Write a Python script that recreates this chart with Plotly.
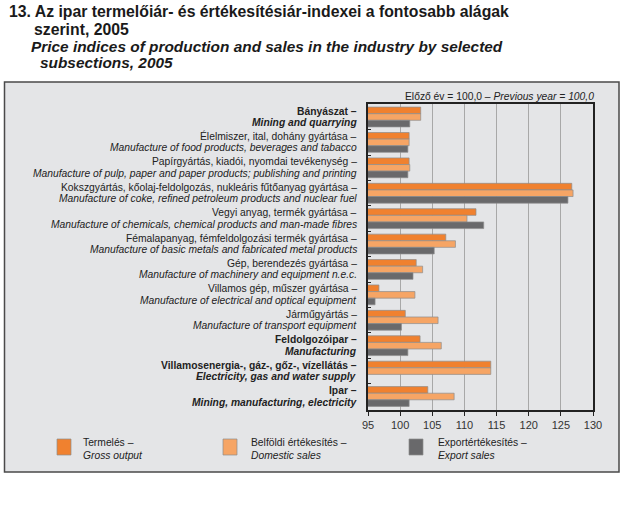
import plotly.graph_objects as go

# ---- data ----
hu_labels = [
    "Bányászat –", "Élelmiszer, ital, dohány gyártása –", "Papírgyártás, kiadói, nyomdai tevékenység –",
    "Kokszgyártás, kőolaj-feldolgozás, nukleáris fűtőanyag gyártása –", "Vegyi anyag, termék gyártása –",
    "Fémalapanyag, fémfeldolgozási termék gyártása –", "Gép, berendezés gyártása –",
    "Villamos gép, műszer gyártása –", "Járműgyártás –", "Feldolgozóipar –",
    "Villamosenergia-, gáz-, gőz-, vízellátás –", "Ipar –",
]
en_labels = [
    "Mining and quarrying", "Manufacture of food products, beverages and tabacco",
    "Manufacture of pulp, paper and paper products; publishing and printing",
    "Manufacture of coke, refined petroleum products and nuclear fuel",
    "Manufacture of chemicals, chemical products and man-made fibres",
    "Manufacture of basic metals and fabricated metal products",
    "Manufacture of machinery and equipment n.e.c.",
    "Manufacture of electrical and optical equipment",
    "Manufacture of transport equipment", "Manufacturing",
    "Electricity, gas and water supply", "Mining, manufacturing, electricity",
]
bold_rows = [True, False, False, False, False, False, False, False, False, True, True, True]

gross_output = [103.2, 101.4, 101.4, 126.7, 111.8, 107.1, 102.5, 96.7, 100.8, 103.1, 114.1, 104.3]
domestic_sales = [103.2, 101.4, 101.5, 126.9, 110.4, 108.6, 103.5, 102.3, 105.9, 106.4, 114.1, 108.4]
export_sales = [101.5, 101.2, 101.2, 126.1, 113.0, 105.3, 102.0, 96.1, 100.2, 101.2, None, 101.4]

series_names_hu = ["Termelés –", "Belföldi értékesítés –", "Exportértékesítés –"]
series_names_en = ["Gross output", "Domestic sales", "Export sales"]
series_colors = ["#F0812F", "#F6A565", "#69696B"]
x_ticks = [95, 100, 105, 110, 115, 120, 125, 130]

# ---- layout helpers (page pixel -> paper) ----
W, H = 626, 520
PL, PR, PT, PB = 368, 593, 104, 410
def px(x):
    return (x - PL) / (PR - PL)
def py(y):
    return (PB - y) / (PB - PT)

cats = en_labels

fig = go.Figure()
for vals, name, col in zip([gross_output, domestic_sales, export_sales], series_names_en, series_colors):
    fig.add_trace(go.Bar(
        y=cats, x=vals, orientation="h", name=name,
        marker=dict(color=col, line=dict(color="#8c8c8c", width=0.7)),
        showlegend=False,
    ))

FONT = "Liberation Sans, Arial, sans-serif"
BOX = "#E4E5E7"

fig.update_layout(
    width=W, height=H,
    margin=dict(l=PL, r=W - PR, t=PT, b=H - PB, pad=0),
    paper_bgcolor="white",
    plot_bgcolor="rgba(0,0,0,0)",
    barmode="group", bargap=0.22, bargroupgap=0.0,
    font=dict(family=FONT, size=10.3, color="#222"),
    xaxis=dict(range=[95, 130], tickvals=x_ticks, showgrid=True, gridcolor="#A8A8A8", gridwidth=1.2,
               showline=True, linecolor="#222", linewidth=1.5, mirror=True,
               ticks="outside", ticklen=4, tickcolor="#222", tickfont=dict(size=11, color="#333"),
               zeroline=False, fixedrange=True),
    yaxis=dict(autorange="reversed", showline=True, linecolor="#222", linewidth=1.5, mirror=True,
               ticks="inside", tickson="boundaries", ticklen=3, tickcolor="#222",
               showticklabels=False, showgrid=False),
)

# category labels (two lines each, anchored to the category axis)
for cat, hu, en, b in zip(cats, hu_labels, en_labels, bold_rows):
    t1 = f"<b>{hu}</b>" if b else hu
    t2 = f"<b><i>{en}</i></b>" if b else f"<i>{en}</i>"
    for txt, shift in ((t1, 6), (t2, -5.5)):
        fig.add_annotation(text=txt, xref="paper", yref="y", x=px(359), y=cat, yshift=shift,
                           xanchor="right", yanchor="middle", showarrow=False,
                           font=dict(size=10.3, color="#222"))

# outer panel
fig.add_shape(type="rect", xref="paper", yref="paper", x0=px(4.5), x1=px(619), y0=py(472), y1=py(82),
              fillcolor=BOX, line=dict(color="#4a4a4a", width=1.5), layer="below")

# titles
title_lines = [
    ("<b>13. Az ipar termelőiár- és értékesítésiár-indexei a fontosabb alágak</b>", 7, 12, 15.8),
    ("<b>szerint, 2005</b>", 32, 29, 15.8),
    ("<b><i>Price indices of production and sales in the industry by selected</i></b>", 29, 46, 15.4),
    ("<b><i>subsections, 2005</i></b>", 38, 62, 15.4),
]
for txt, x, y, fs in title_lines:
    fig.add_annotation(text=txt, xref="paper", yref="paper", x=px(x), y=py(y), xanchor="left",
                       yanchor="middle", showarrow=False, font=dict(size=fs, color="#1a1a1a"))

fig.add_annotation(text="Előző év = 100,0 – <i>Previous year = 100,0</i>", xref="paper", yref="paper",
                   x=px(596), y=py(96), xanchor="right", yanchor="middle", showarrow=False,
                   font=dict(size=10.3, color="#222"))

# legend
leg_sq_x = [57, 223, 409]
leg_tx_x = [81, 249, 436]
for i in range(3):
    fig.add_shape(type="rect", xref="paper", yref="paper", x0=px(leg_sq_x[i]), x1=px(leg_sq_x[i] + 14),
                  y0=py(455), y1=py(439), fillcolor=series_colors[i], line=dict(color="#8c8c8c", width=0.7))
    fig.add_annotation(text=f"{series_names_hu[i]}<br><i>{series_names_en[i]}</i>", xref="paper", yref="paper",
                       x=px(leg_tx_x[i]), y=py(449), xanchor="left", yanchor="middle", align="left",
                       showarrow=False, font=dict(size=10.3, color="#222"))

fig.write_html("out.html", config={"displayModeBar": False},
               post_script="document.body.style.margin='0';document.body.style.padding='0';document.body.style.overflow='hidden';")
